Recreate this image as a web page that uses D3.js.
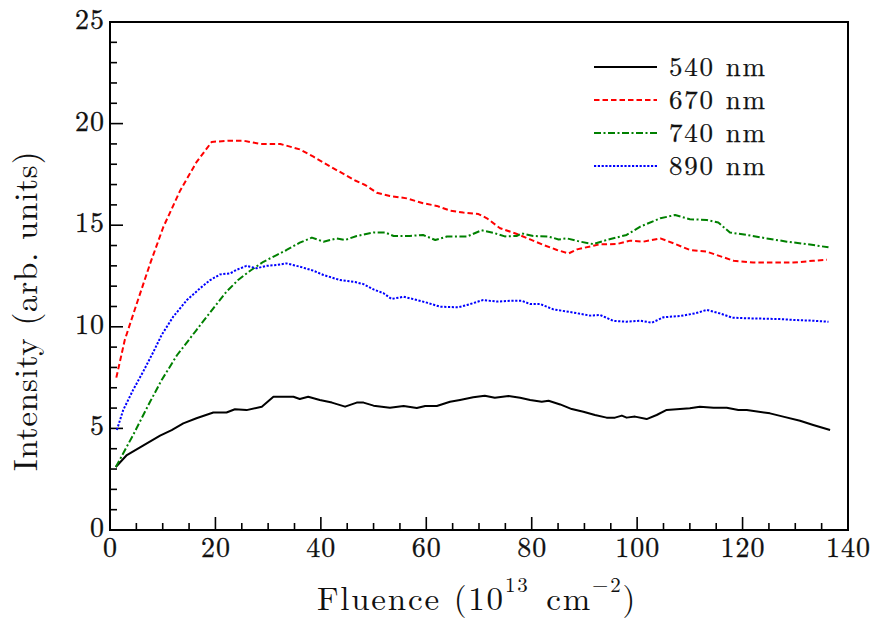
<!DOCTYPE html>
<html><head><meta charset="utf-8">
<script src="https://cdn.jsdelivr.net/npm/d3@7"></script>
<style>body{margin:0;background:#fff}svg{display:block}</style>
</head><body><svg id="c" width="884" height="625"></svg>
<script>
const xTicks = [0,20,40,60,80,100,120,140];
const yTicks = [0,5,10,15,20,25];
const seriesNames = ["540 nm","670 nm","740 nm","890 nm"];
const colors = ["#000000","#ff0000","#008000","#0000ff"];
const dashes = [null,"5.5,3","7,2.5,2,2.5","2.2,1.6"];

const x540 = [1.1,3.2,5.7,9.5,11.7,13.9,16.4,19.6,22.1,23.7,25.9,28.8,31.0,34.8,36.0,37.6,39.8,42.1,44.6,46.8,48.1,50,53.1,55.7,58.2,59.8,62,64.5,66.4,68.9,71.1,73,75.6,77.8,79.7,81.9,83.2,85.4,87.6,89.8,92,94.2,95.8,97.1,98,99.6,101.8,103.7,105.6,107.5,110,111.9,114.5,117,119.2,120.8,125.2,127.7,130.9,133.4,136.6];
const y540 = [3.1,3.69,4.07,4.64,4.92,5.25,5.5,5.78,5.78,5.94,5.9,6.07,6.56,6.56,6.45,6.56,6.4,6.27,6.07,6.27,6.27,6.12,6.02,6.1,6.0,6.1,6.1,6.31,6.4,6.53,6.61,6.51,6.6,6.51,6.4,6.31,6.36,6.18,5.95,5.82,5.66,5.53,5.53,5.63,5.53,5.58,5.46,5.66,5.91,5.94,5.99,6.07,6.02,6.02,5.91,5.91,5.74,5.58,5.38,5.17,4.92];

const x670 = [1.2,2.8,5.1,7.6,10.1,13.3,16.4,19.3,22.8,25.3,28.5,32.3,36.0,38.6,42.4,46.5,48.4,50.6,53.1,56.3,59.4,62,64.5,67,69.9,71.5,74,77.2,79.7,82.2,84.8,87,88.6,91.7,93,96.1,98.7,101.2,104.4,106.9,110,113.2,115.7,118.3,122,129.6,133.4,136];
const y670 = [7.5,9.35,11.16,13.1,14.9,16.7,18.1,19.1,19.16,19.16,19.0,19.0,18.73,18.37,17.8,17.2,16.98,16.6,16.44,16.32,16.08,15.95,15.72,15.62,15.55,15.34,14.85,14.57,14.3,14.03,13.78,13.61,13.81,13.99,14.06,14.07,14.24,14.19,14.35,14.11,13.78,13.7,13.48,13.25,13.16,13.16,13.25,13.3];

const x740 = [1.1,4.4,7.6,9.8,12.7,16.4,19.6,22.1,24.3,26.6,29.1,31.6,33.5,36,38.3,40.5,43,44.6,46.8,50,52.2,53.8,56.9,59.4,61.7,63.9,67.7,70.5,72.7,74.9,77.2,78.1,80.3,83.2,85.1,86.7,89.2,91.7,94.2,98,100.6,104.4,107.2,110,113.2,115.4,117.6,120.8,124.6,128.4,132.2,136.3];
const y740 = [3.1,4.68,6.31,7.38,8.6,9.84,10.91,11.73,12.3,12.76,13.2,13.53,13.78,14.14,14.39,14.19,14.35,14.27,14.47,14.64,14.64,14.47,14.47,14.52,14.27,14.44,14.44,14.75,14.63,14.45,14.47,14.6,14.47,14.44,14.3,14.35,14.19,14.07,14.27,14.52,14.93,15.34,15.5,15.29,15.26,15.13,14.64,14.52,14.35,14.19,14.07,13.91];

const x890 = [1.3,2.5,4.4,6.3,8.2,9.8,12,14.6,17.1,19,20.9,22.8,24,25.9,27.8,29.7,31.6,33.5,36,38.6,40.5,43.6,46.5,48.1,50,51.9,53.4,55.7,58.2,60.1,62.6,66.1,67.7,70.8,73.4,75.9,78.1,79.7,81.6,84.1,87.9,91.1,93,95.5,98,100.6,102.8,105,108.1,111,113.2,115.7,118,120.8,127.1,130.3,133.4,136.3];
const y890 = [4.92,5.9,6.9,7.8,8.75,9.6,10.5,11.32,11.9,12.3,12.58,12.63,12.8,13.0,12.88,13.0,13.04,13.12,12.96,12.76,12.55,12.3,12.2,12.1,11.84,11.65,11.37,11.48,11.32,11.19,10.99,10.96,11.07,11.32,11.24,11.28,11.28,11.12,11.12,10.86,10.7,10.55,10.58,10.29,10.25,10.3,10.2,10.47,10.53,10.66,10.83,10.66,10.45,10.42,10.38,10.33,10.3,10.25];

const xs = [x540,x670,x740,x890];
const ys = [y540,y670,y740,y890];

// pick an installed serif font, if any
const cands = ["Latin Modern Roman","CMU Serif","Liberation Serif","DejaVu Serif","Noto Serif","Tinos","Times New Roman","FreeSerif","Nimbus Roman","Nimbus Roman No9 L","TeX Gyre Termes","C059","P052","Georgia"];
const cv = document.createElement("canvas").getContext("2d");
function w(f){ cv.font = "30px " + f; return cv.measureText("Intensity 0123 (arb.) nm Wg").width; }
const wm = w("monospace");
let chosen = null;
for (const c of cands){
  const a = w(`'${c}', monospace`), b = w(`'${c}', sans-serif`);
  if (Math.abs(a-wm)>0.5 && Math.abs(a-b)<0.5){ chosen = c; break; }
}
const FONT = chosen ? `'${chosen}', serif` : "serif";

const svg = d3.select("#c");
const L=110,R=848,T=22,B=530;
const x = d3.scaleLinear().domain([0,140]).range([L,R]);
const y = d3.scaleLinear().domain([0,25]).range([B,T]);

const g = svg.append("g");
d3.range(0,141,5).forEach(v=>{
  const major = v%20===0;
  g.append("line").attr("x1",x(v)).attr("x2",x(v)).attr("y1",B).attr("y2",B-(major?13:7)).attr("stroke","#000").attr("stroke-width",1.6);
});
d3.range(0,26,1).forEach(v=>{
  const major = v%5===0;
  g.append("line").attr("y1",y(v)).attr("y2",y(v)).attr("x1",L).attr("x2",L+(major?13:7)).attr("stroke","#000").attr("stroke-width",1.6);
});
function txt(){ return svg.append("text").attr("font-family",FONT).attr("fill","#111"); }
xTicks.forEach(v=>{
  txt().attr("x",x(v)+0.5).attr("y",B+27).attr("text-anchor","middle").attr("font-size",28).attr("letter-spacing",1).attr("stroke","#111").attr("stroke-width",0.3).text(v);
});
yTicks.forEach(v=>{
  txt().attr("x",L-5).attr("y",y(v)+7).attr("text-anchor","end").attr("font-size",28).attr("letter-spacing",1).attr("stroke","#111").attr("stroke-width",0.3).text(v);
});

const line = d3.line().x(d=>x(d[0])).y(d=>y(d[1]));
xs.forEach((xa,i)=>{
  const pts = xa.map((v,j)=>[v,ys[i][j]]);
  svg.append("path").attr("d",line(pts)).attr("fill","none").attr("stroke",colors[i])
    .attr("stroke-width",2).attr("stroke-dasharray",dashes[i]).attr("stroke-linejoin","round");
});

svg.append("rect").attr("x",L).attr("y",T).attr("width",R-L).attr("height",B-T).attr("fill","none").attr("stroke","#000").attr("stroke-width",2);

seriesNames.forEach((n,i)=>{
  const ly = 67+33*i;
  svg.append("line").attr("x1",594).attr("x2",657).attr("y1",ly).attr("y2",ly).attr("stroke",colors[i]).attr("stroke-width",2).attr("stroke-dasharray",dashes[i]);
  txt().attr("x",669).attr("y",ly+9).attr("font-size",27).attr("letter-spacing",1.8).attr("stroke","#111").attr("stroke-width",0.25).text(n);
});

const xt = txt().attr("x",477).attr("y",610).attr("text-anchor","middle").attr("font-size",33).attr("letter-spacing",1.8);
xt.append("tspan").text("Fluence (10");
xt.append("tspan").attr("dy",-18).attr("font-size",21).text("13");
xt.append("tspan").attr("dy",18).attr("dx",4).text(" cm");
xt.append("tspan").attr("dy",-18).attr("font-size",21).text("\u22122");
xt.append("tspan").attr("dy",18).text(")");

txt().attr("transform",`translate(37,311) rotate(-90)`).attr("text-anchor","middle").attr("font-size",33).attr("letter-spacing",0.8).text("Intensity (arb. units)");
</script></body></html>
